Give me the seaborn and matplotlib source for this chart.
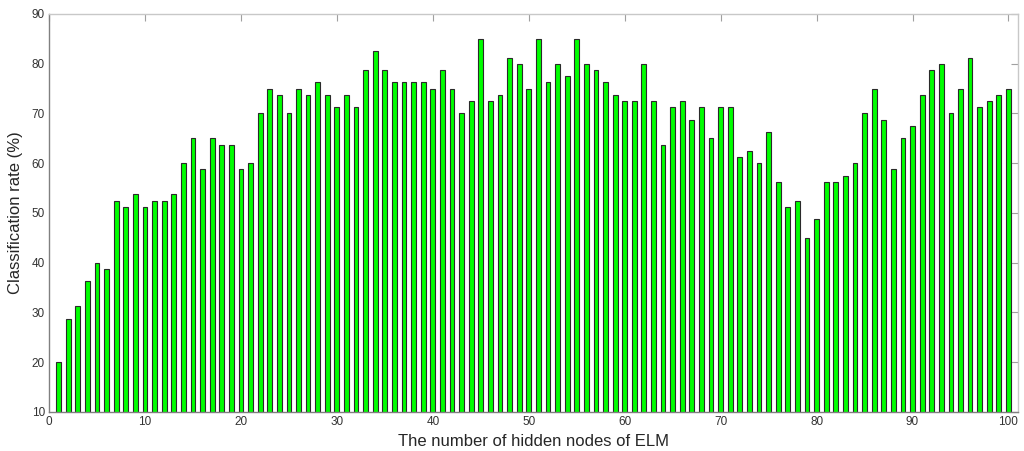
import matplotlib
matplotlib.use("Agg")
import matplotlib.pyplot as plt
import numpy as np
import seaborn as sns

# number of hidden nodes (1..100) and the classification rate
nodes = list(range(1, 101))
rates = [
    20.00, 28.75, 31.25, 36.25, 40.00, 38.75, 52.50, 51.25, 53.75, 51.25,
    52.50, 52.50, 53.75, 60.00, 65.00, 58.75, 65.00, 63.75, 63.75, 58.75,
    60.00, 70.00, 75.00, 73.75, 70.00, 75.00, 73.75, 76.25, 73.75, 71.25,
    73.75, 71.25, 78.75, 82.50, 78.75, 76.25, 76.25, 76.25, 76.25, 75.00,
    78.75, 75.00, 70.00, 72.50, 85.00, 72.50, 73.75, 81.25, 80.00, 75.00,
    85.00, 76.25, 80.00, 77.50, 85.00, 80.00, 78.75, 76.25, 73.75, 72.50,
    72.50, 80.00, 72.50, 63.75, 71.25, 72.50, 68.75, 71.25, 65.00, 71.25,
    71.25, 61.25, 62.50, 60.00, 66.25, 56.25, 51.25, 52.50, 45.00, 48.75,
    56.25, 56.25, 57.50, 60.00, 70.00, 75.00, 68.75, 58.75, 65.00, 67.50,
    73.75, 78.75, 80.00, 70.00, 75.00, 81.25, 71.25, 72.50, 73.75, 75.00,
]
x_ticks = [0, 10, 20, 30, 40, 50, 60, 70, 80, 90, 100]
y_ticks = [10, 20, 30, 40, 50, 60, 70, 80, 90]

sns.set_style("white")
plt.rcParams['font.family'] = ['Liberation Sans', 'DejaVu Sans']

fig = plt.figure(figsize=(10.24, 4.51), dpi=100)
ax = fig.add_axes([0.0479, 0.0865, 0.9463, 0.8825])

sns.barplot(x=nodes, y=rates, native_scale=True, width=0.5, color="#00ff00",
            saturation=1, edgecolor="#2a2a2a", linewidth=0.8, ax=ax)

ax.set_xlim(0, 101)
ax.set_ylim(10, 90)
ax.set_xticks(x_ticks)
ax.set_yticks(y_ticks)
ax.tick_params(direction="in", length=5, width=0.8, color="#a0a0a0",
               labelsize=8.5, labelcolor="#333333", top=True, right=True,
               pad=3)
for side in ["top", "right"]:
    ax.spines[side].set_color("#c8c8c8")
for side in ["left", "bottom"]:
    ax.spines[side].set_color("#808080")
for s in ax.spines.values():
    s.set_linewidth(1.0)

ax.set_xlabel("The number of hidden nodes of ELM", fontsize=12, labelpad=4)
ax.set_ylabel("Classification rate (%)", fontsize=12, labelpad=6)

fig.savefig("out.png", dpi=100)
